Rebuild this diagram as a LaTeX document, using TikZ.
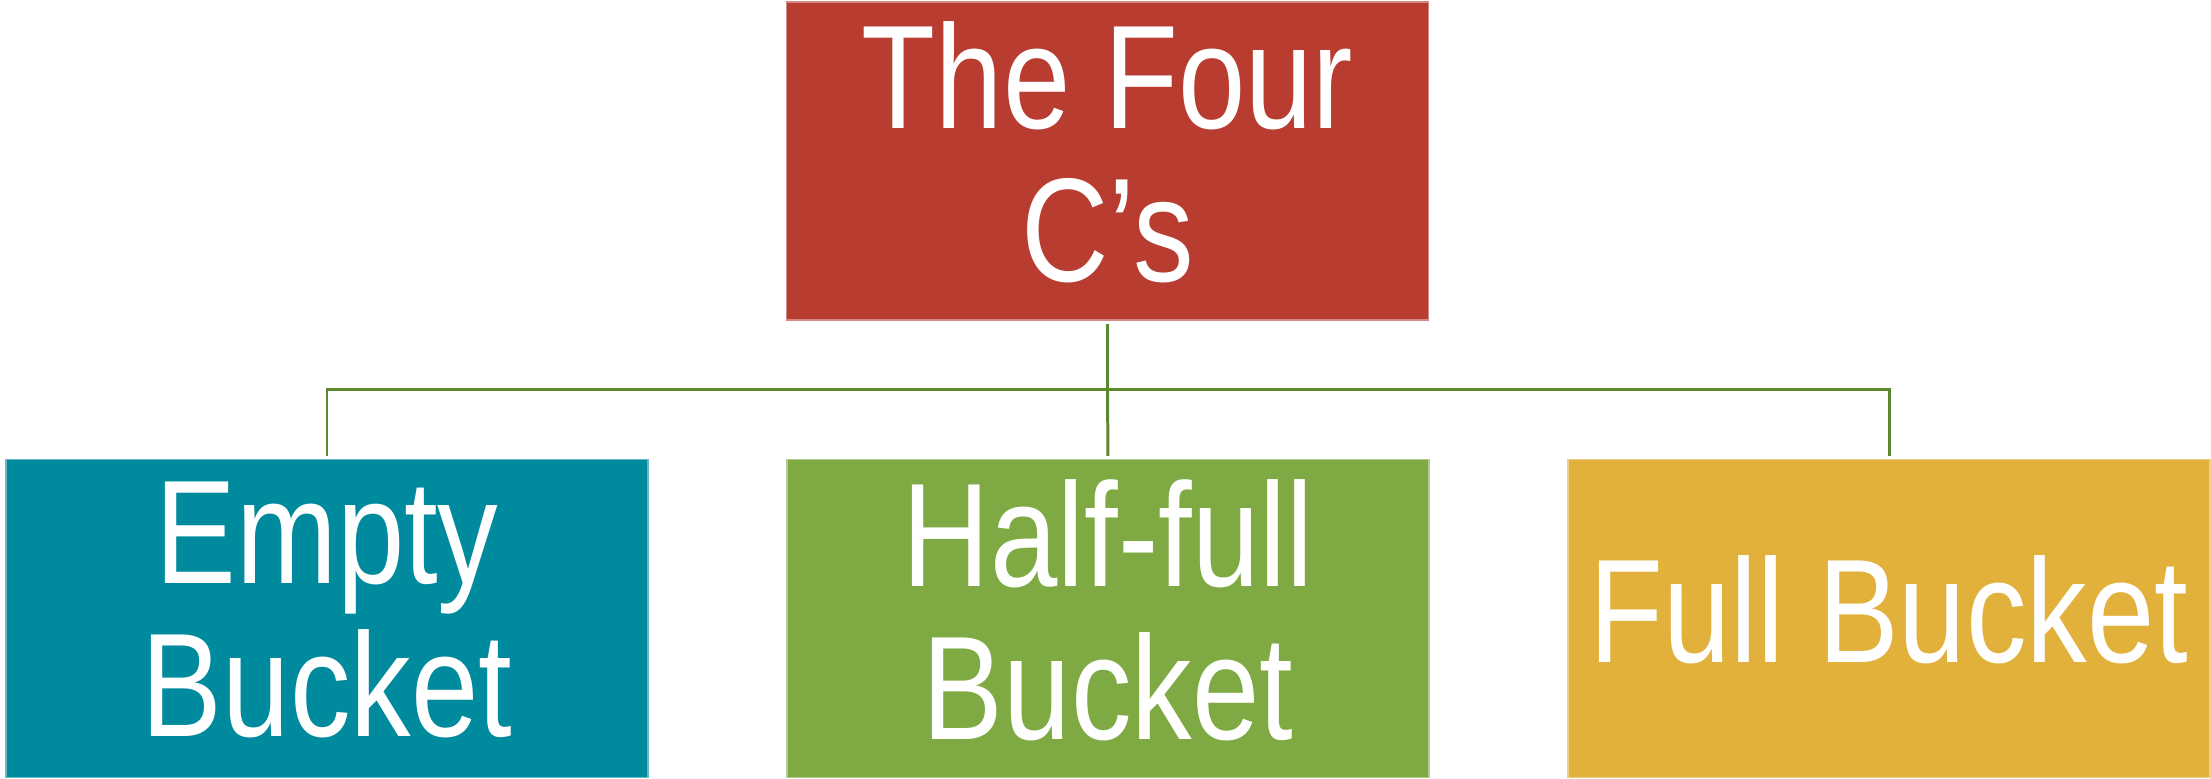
\documentclass[tikz,border=0pt]{standalone}
\usepackage{fontspec}
\setmainfont{Liberation Sans}
\newfontfamily\boxfont[FakeStretch=0.82]{Liberation Sans}
\definecolor{cred}{RGB}{184,60,48}
\definecolor{cteal}{RGB}{0,138,158}
\definecolor{cgreen}{RGB}{127,170,67}
\definecolor{cyellow}{RGB}{225,177,60}
\definecolor{cline}{RGB}{93,136,46}
\newcommand{\lift}{\rule[-5.2pt]{0pt}{0pt}}
\begin{document}
\begin{tikzpicture}[x=0.1mm,y=-0.1mm,
  box/.style={fill=#1, draw=#1!60!white, line width=0.4pt, text=white, inner sep=0pt, align=center,
    minimum width=64.2mm, minimum height=31.8mm,
    font={\boxfont\fontsize{42}{43.5}\selectfont}},
  conn/.style={draw=cline, line width=0.85pt}]
\useasboundingbox (0,0) rectangle (2211,778);
\fill[white] (0,0) rectangle (2211,778);
\node[box=cred] (top) at (1107.5,161) {The Four\\C’s\lift};
\node[box=cteal] (left) at (327,618.5) {Empty\\Bucket\lift};
\node[box=cgreen] (mid) at (1108,618.5) {Half-full\\Bucket\lift};
\node[box=cyellow] (right) at (1889,618.5) {Full Bucket\lift};
\coordinate (hub) at (1107.5,389);
\draw[conn, shorten <=0.3mm] (top.south) -- (hub);
\draw[conn, shorten >=0.3mm] (hub) -| (left.north);
\draw[conn, shorten >=0.3mm] (hub) -- (mid.north);
\draw[conn, shorten >=0.3mm] (hub) -| (right.north);
\end{tikzpicture}
\end{document}
